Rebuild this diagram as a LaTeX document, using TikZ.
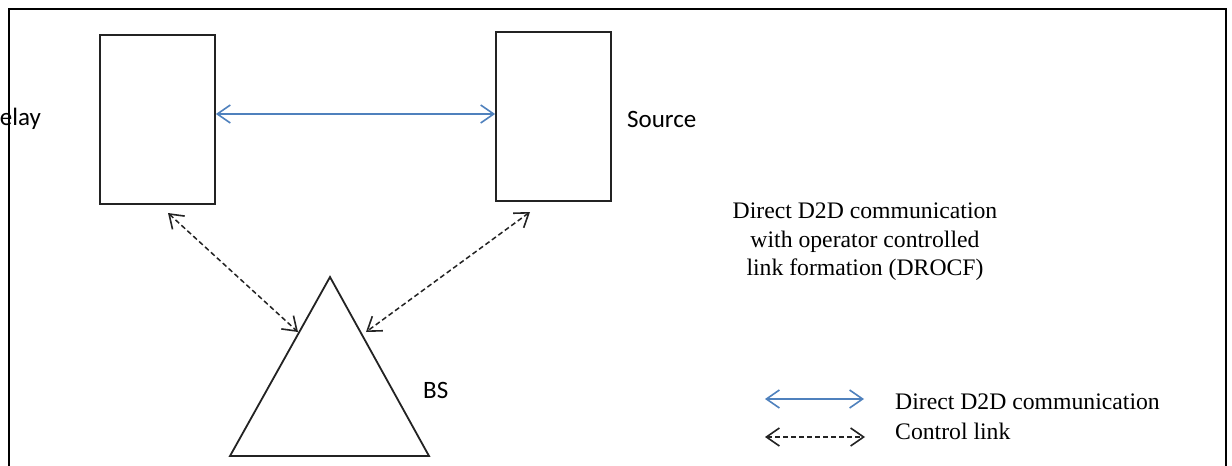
\documentclass[tikz,border=0pt]{standalone}
\usepackage{fontspec}
\setmainfont{Liberation Serif}
\newfontfamily\calfont{Carlito}
\usetikzlibrary{arrows.meta}
\definecolor{d2d}{RGB}{79,129,189}
\definecolor{ink}{RGB}{35,35,35}
\tikzset{
  barbtip/.tip={Straight Barb[length=13pt,width=18pt,line width=1.6pt]},
  devbox/.style={draw=ink, line width=1.8pt, inner sep=0pt, minimum width=115pt, minimum height=169pt},
  d2darrow/.style={draw=d2d, line width=1.5pt, barbtip-barbtip},
  ctrlarrow/.style={draw=ink, line width=1.5pt, dash pattern=on 5pt off 3pt, barbtip-barbtip},
  lbl/.style={font=\calfont\fontsize{25}{30}\selectfont, inner sep=0pt, text=black},
  ser/.style={font=\fontsize{23.7}{28.5}\selectfont, inner sep=0pt, text=black}
}
\begin{document}
\begin{tikzpicture}[x=1pt,y=-1pt]
\useasboundingbox (0,0) rectangle (1232,466);
\clip (0,0) rectangle (1232,466);
\fill[white] (0,0) rectangle (1232,466);

% labels
\node[lbl, anchor=west] (relaylbl) at (-13.5,119) {Relay};
\node[lbl, anchor=west] (sourcelbl) at (627,119) {Source};
\node[lbl, anchor=west] (bslbl) at (423,390) {BS};

% frame
\draw[line width=2.5pt, black] (9,470) -- (9,9) -- (1226,9) -- (1226,470);

% devices
\node[devbox] (relay) at (157.5,119.5) {};
\node[devbox] (source) at (553.5,116.5) {};

% base station triangle
\coordinate (apex) at (330,277);
\coordinate (bl) at (230,456);
\coordinate (br) at (429,456);
\draw[draw=ink, line width=1.8pt, line join=miter] (apex) -- (br) -- (bl) -- cycle;

% connectors
\draw[d2darrow] ([yshift=5.5pt]relay.east) -- ([yshift=2.5pt]source.west);
\coordinate (r1) at (168,213);
\coordinate (t1) at (298,332);
\coordinate (s1) at (530,212);
\coordinate (t2) at (366,332);
\draw[ctrlarrow] (r1) -- (t1);
\draw[ctrlarrow] (s1) -- (t2);

% description
\node[ser, align=center] (desc) at (865,242) {Direct D2D communication\\with operator controlled\\link formation (DROCF)};

% legend
\coordinate (l1a) at (765,399);
\coordinate (l1b) at (864,399);
\coordinate (l2a) at (765,437);
\coordinate (l2b) at (865,437);
\draw[d2darrow] (l1a) -- (l1b);
\draw[ctrlarrow] (l2a) -- (l2b);
\node[ser, anchor=west] (leg1) at (895,402) {Direct D2D communication};
\node[ser, anchor=west] (leg2) at (895,431) {Control link};
\end{tikzpicture}
\end{document}
